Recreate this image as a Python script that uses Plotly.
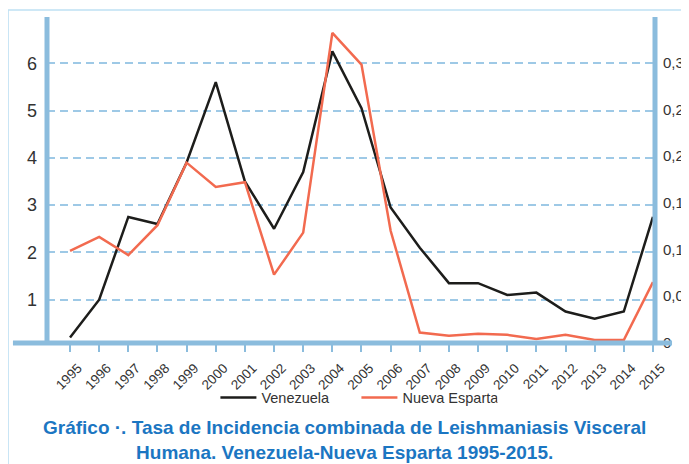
import plotly.graph_objects as go

years = list(range(1995, 2016))
venezuela = [0.2, 1.0, 2.75, 2.6, 3.9, 5.6, 3.5, 2.5, 3.7, 6.25, 5.05, 2.95,
             2.1, 1.35, 1.35, 1.1, 1.15, 0.75, 0.6, 0.75, 2.75]
nueva_esparta = [0.0985, 0.1135, 0.094, 0.126, 0.193, 0.167, 0.172, 0.073, 0.118,
                 0.332, 0.298, 0.12, 0.011, 0.0075, 0.0096, 0.0086, 0.004, 0.0086,
                 0.003, 0.003, 0.065]
left_ticks = [1, 2, 3, 4, 5, 6]
right_ticks = [0, 0.05, 0.1, 0.15, 0.2, 0.25, 0.3]

BLUE = "#8bbcdd"
GRID = "#9ec9e6"
TXT = "#333333"
FONT = "Liberation Sans, Arial, sans-serif"

fig = go.Figure()
fig.add_trace(go.Scatter(x=years, y=venezuela, mode="lines", name="Venezuela",
                         line=dict(color="#1d1d1b", width=2.5)))
fig.add_trace(go.Scatter(x=years, y=nueva_esparta, mode="lines", name="Nueva Esparta",
                         yaxis="y2", line=dict(color="#f26a4f", width=2.5)))

# the page adds an 8px body margin, so the figure is 8px smaller on each axis
fig.update_layout(
    width=681, height=456,
    margin=dict(l=39, r=34, t=9, b=121, autoexpand=False),
    paper_bgcolor="white", plot_bgcolor="white",
    separators=",.",
    font=dict(family=FONT, color=TXT),
    showlegend=True,
    legend=dict(orientation="h", x=0.277, xanchor="left", y=-0.118, yanchor="top",
                entrywidth=90, entrywidthmode="pixels", itemwidth=36,
                font=dict(size=14.5, color=TXT), bgcolor="rgba(0,0,0,0)"),
    xaxis=dict(range=[1994.21, 2015.07], tickmode="array", tickvals=years,
               ticktext=[str(y) for y in years], tickangle=-45, automargin=False,
               ticks="outside", ticklen=8, tickwidth=1.5, tickcolor=BLUE,
               ticklabelshift=8, ticklabelstandoff=3,
               tickfont=dict(size=13.5, color=TXT), showgrid=False, zeroline=False,
               showline=False),
    yaxis=dict(range=[0.085, 6.977], tickvals=left_ticks, showgrid=True, automargin=False,
               gridcolor=GRID, gridwidth=1.5, griddash="8px,5px", zeroline=False,
               tickfont=dict(size=18, color=TXT), ticklabelstandoff=9, showline=False),
    yaxis2=dict(range=[-0.0002, 0.349], overlaying="y", side="right", automargin=False,
                tickvals=right_ticks, showgrid=False, zeroline=False,
                tickfont=dict(size=15, color=TXT), ticklabelstandoff=7, showline=False),
)

# decorative frame and axis bars
fig.add_shape(type="rect", xref="paper", yref="paper", x0=-0.064, x1=1.2, y0=-0.5, y1=1.0215,
              line=dict(color="#bfe1f3", width=1.5), layer="below")
fig.add_shape(type="line", xref="paper", yref="paper", x0=-0.056, x1=1.028, y0=0, y1=0,
              line=dict(color=BLUE, width=5))
fig.add_shape(type="line", xref="paper", yref="paper", x0=0, x1=0, y0=0, y1=1,
              line=dict(color=BLUE, width=5))
fig.add_shape(type="line", xref="paper", yref="paper", x0=1, x1=1, y0=0, y1=1,
              line=dict(color=BLUE, width=5))

fig.add_annotation(xref="paper", yref="paper", x=0.49, y=-0.222, xanchor="center", yanchor="top",
                   text="<b>Gráfico ·. Tasa de Incidencia combinada de Leishmaniasis Visceral<br>"
                        "Humana. Venezuela-Nueva Esparta 1995-2015.</b>",
                   showarrow=False, align="center",
                   font=dict(size=19, color="#1b76c2", family=FONT))

fig.write_html("out.html")
